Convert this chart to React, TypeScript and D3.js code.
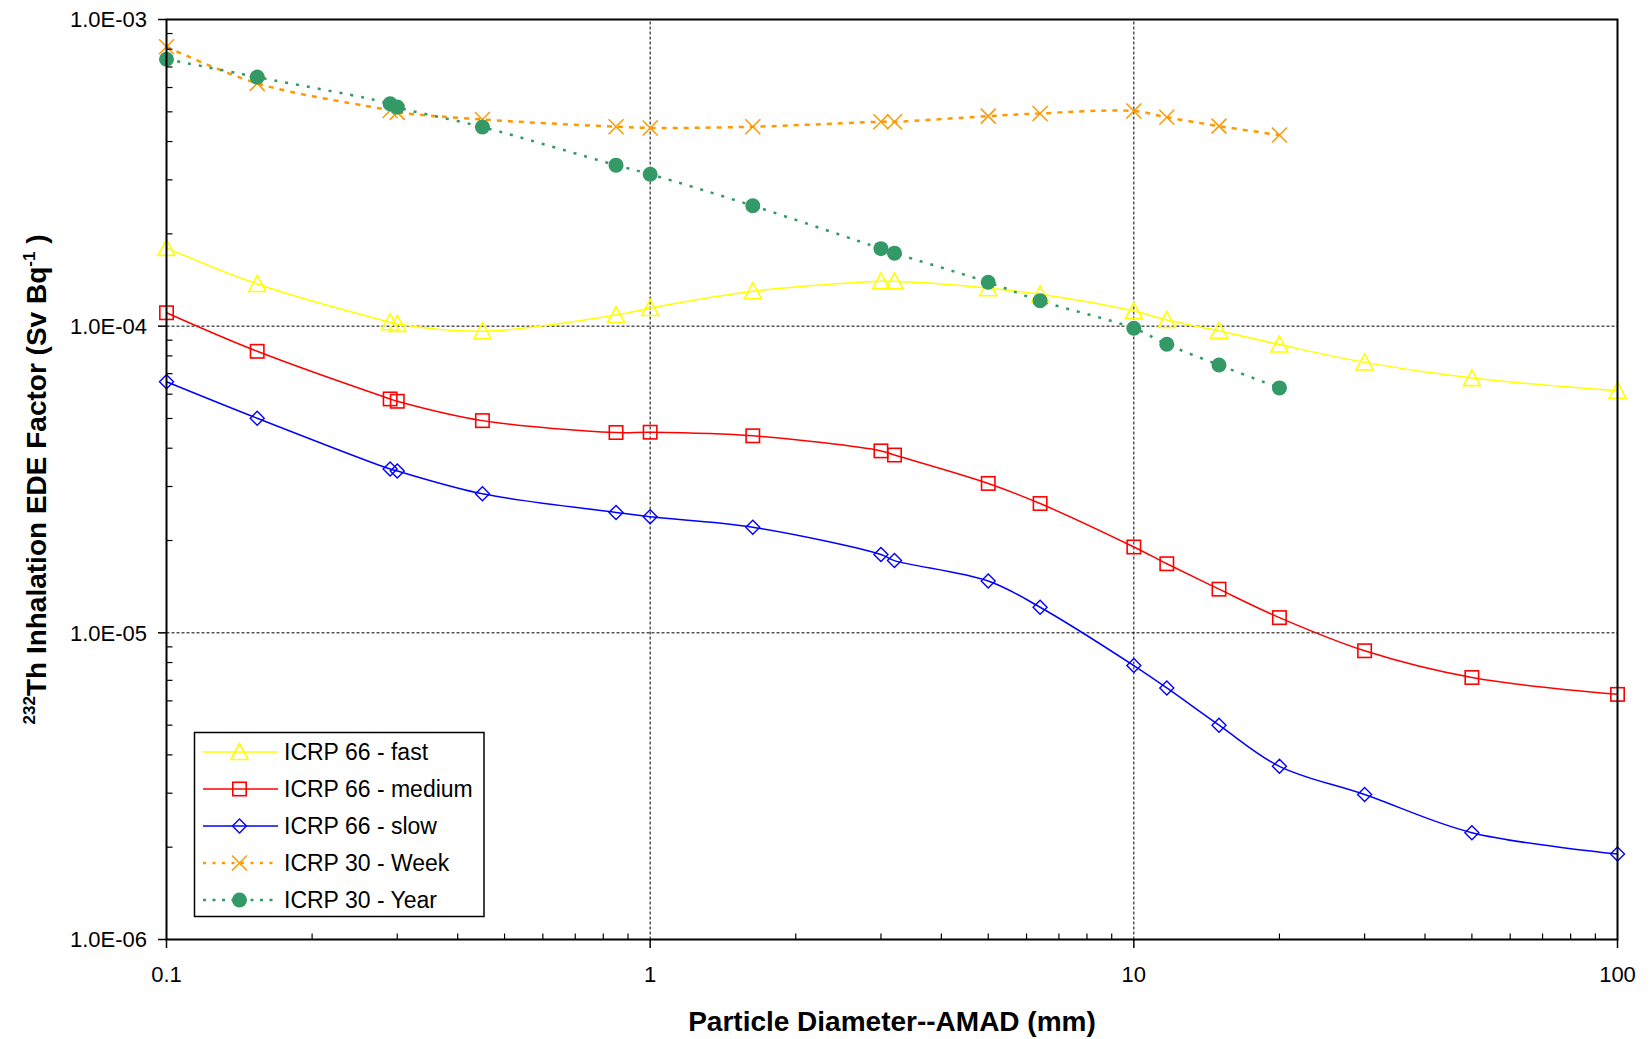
import React from "react";
import * as d3 from "d3";

// ---- data ----
const amad66: number[] = [0.1, 0.154, 0.29, 0.3, 0.45, 0.85, 1.0, 1.63, 3.0, 3.2, 5.0, 6.4, 10, 11.7, 15, 20, 30, 50, 100];
const fast: number[] = [1.8e-4, 1.373e-4, 1.03e-4, 1.017e-4, 9.63e-5, 1.087e-4, 1.146e-4, 1.3e-4, 1.4e-4, 1.4e-4, 1.33e-4, 1.27e-4, 1.12e-4, 1.047e-4, 9.65e-5, 8.71e-5, 7.62e-5, 6.77e-5, 6.16e-5];
const medium: number[] = [1.106e-4, 8.28e-5, 5.79e-5, 5.69e-5, 4.92e-5, 4.5e-5, 4.51e-5, 4.39e-5, 3.92e-5, 3.8e-5, 3.07e-5, 2.64e-5, 1.905e-5, 1.68e-5, 1.388e-5, 1.121e-5, 8.74e-6, 7.15e-6, 6.3e-6];
const slow: number[] = [6.59e-5, 5.01e-5, 3.42e-5, 3.37e-5, 2.84e-5, 2.47e-5, 2.39e-5, 2.21e-5, 1.8e-5, 1.72e-5, 1.476e-5, 1.212e-5, 7.82e-6, 6.61e-6, 5.0e-6, 3.67e-6, 2.97e-6, 2.23e-6, 1.9e-6];
const amad30: number[] = [0.1, 0.154, 0.29, 0.3, 0.45, 0.85, 1.0, 1.63, 3.0, 3.2, 5.0, 6.4, 10, 11.7, 15, 20];
const week: number[] = [8.15e-4, 6.19e-4, 5.05e-4, 4.98e-4, 4.72e-4, 4.47e-4, 4.43e-4, 4.47e-4, 4.64e-4, 4.64e-4, 4.84e-4, 4.94e-4, 5.03e-4, 4.8e-4, 4.49e-4, 4.2e-4];
const year: number[] = [7.42e-4, 6.49e-4, 5.31e-4, 5.18e-4, 4.46e-4, 3.35e-4, 3.13e-4, 2.47e-4, 1.79e-4, 1.73e-4, 1.39e-4, 1.21e-4, 9.84e-5, 8.73e-5, 7.47e-5, 6.29e-5];

const xTickValues: number[] = [0.1, 1, 10, 100];
const xTickLabels: string[] = ["0.1", "1", "10", "100"];
const yTickValues: number[] = [1e-6, 1e-5, 1e-4, 1e-3];
const yTickLabels: string[] = ["1.0E-06", "1.0E-05", "1.0E-04", "1.0E-03"];
const legendLabels: string[] = ["ICRP 66 - fast", "ICRP 66 - medium", "ICRP 66 - slow", "ICRP 30 - Week", "ICRP 30 - Year"];

const FONT = "'Liberation Sans', Arial, Helvetica, sans-serif";

type Marker = "triangle" | "square" | "diamond" | "x" | "circle";
interface Series {
  name: string;
  xs: number[];
  ys: number[];
  color: string;
  marker: Marker;
  dash?: string;
  width: number;
}

const series: Series[] = [
  { name: legendLabels[0], xs: amad66, ys: fast, color: "#FFFF00", marker: "triangle", width: 1.5 },
  { name: legendLabels[1], xs: amad66, ys: medium, color: "#FF0000", marker: "square", width: 1.5 },
  { name: legendLabels[2], xs: amad66, ys: slow, color: "#0000FF", marker: "diamond", width: 1.5 },
  { name: legendLabels[3], xs: amad30, ys: week, color: "#FF9900", marker: "x", dash: "5,6", width: 2.5 },
  { name: legendLabels[4], xs: amad30, ys: year, color: "#339966", marker: "circle", dash: "3,8", width: 2.5 },
];

function MarkerShape({ type, cx, cy, color }: { type: Marker; cx: number; cy: number; color: string }) {
  switch (type) {
    case "triangle":
      return (
        <path
          d={`M${cx},${cy - 8.5}L${cx + 8.5},${cy + 7.5}L${cx - 8.5},${cy + 7.5}Z`}
          fill="none"
          stroke={color}
          strokeWidth={1.6}
        />
      );
    case "square":
      return <rect x={cx - 6.7} y={cy - 6.7} width={13.4} height={13.4} fill="none" stroke={color} strokeWidth={1.6} />;
    case "diamond":
      return (
        <path
          d={`M${cx},${cy - 7}L${cx + 7},${cy}L${cx},${cy + 7}L${cx - 7},${cy}Z`}
          fill="none"
          stroke={color}
          strokeWidth={1.4}
        />
      );
    case "x":
      return (
        <path
          d={`M${cx - 7.5},${cy - 7.5}L${cx + 7.5},${cy + 7.5}M${cx + 7.5},${cy - 7.5}L${cx - 7.5},${cy + 7.5}`}
          fill="none"
          stroke={color}
          strokeWidth={1.5}
        />
      );
    case "circle":
      return <circle cx={cx} cy={cy} r={7.5} fill={color} />;
  }
  return null;
}

export default function App() {
  const W = 1650;
  const H = 1039;
  const x = d3.scaleLog().domain([0.1, 100]).range([166.5, 1617.5]);
  const y = d3.scaleLog().domain([1e-6, 1e-3]).range([939.5, 19.5]);
  const [x0, x1] = x.range();
  const [y0, y1] = [y(1e-3), y(1e-6)];

  const line = d3
    .line<[number, number]>()
    .x((d) => x(d[0]))
    .y((d) => y(d[1]))
    .curve(d3.curveCatmullRom.alpha(0.5));

  const minorX: number[] = [];
  [0.1, 1, 10].forEach((d) => {
    for (let k = 2; k <= 9; k++) minorX.push(d * k);
  });
  const minorY: number[] = [];
  [1e-6, 1e-5, 1e-4].forEach((d) => {
    for (let k = 2; k <= 9; k++) minorY.push(d * k);
  });

  const legX = 194.5;
  const legY = 732.5;
  const legW = 289.5;
  const legH = 184;
  const legStep = 37;

  return (
    <svg
      width={W}
      height={H}
      viewBox={`0 0 ${W} ${H}`}
      style={{ position: "absolute", left: 0, top: 0, background: "#fff" }}
      fontFamily={FONT}
    >
      <rect x={0} y={0} width={W} height={H} fill="#fff" />

      {/* gridlines */}
      {xTickValues
        .filter((v) => v > 0.1 && v < 100)
        .map((v) => (
          <line key={"gx" + v} x1={x(v)} x2={x(v)} y1={y1} y2={y0} stroke="#000" strokeWidth={1} strokeDasharray="3,2" />
        ))}
      {yTickValues
        .filter((v) => v > 1e-6 && v < 1e-3)
        .map((v) => (
          <line key={"gy" + v} x1={x0} x2={x1} y1={y(v)} y2={y(v)} stroke="#000" strokeWidth={1} strokeDasharray="3,2" />
        ))}

      {/* series lines */}
      {series.map((s) => (
        <path
          key={"l" + s.name}
          d={line(s.xs.map((v, i) => [v, s.ys[i]] as [number, number])) || ""}
          fill="none"
          stroke={s.color}
          strokeWidth={s.width}
          strokeDasharray={s.dash}
        />
      ))}
      {/* markers */}
      {series.map((s) => (
        <g key={"m" + s.name}>
          {s.xs.map((v, i) => (
            <MarkerShape key={i} type={s.marker} cx={x(v)} cy={y(s.ys[i])} color={s.color} />
          ))}
        </g>
      ))}

      {/* frame */}
      <rect x={x0} y={y0} width={x1 - x0} height={y1 - y0} fill="none" stroke="#000" strokeWidth={2} />

      {/* y ticks */}
      {yTickValues.map((v, i) => (
        <g key={"yt" + v}>
          <line x1={x0 - 8.5} x2={x0} y1={y(v)} y2={y(v)} stroke="#000" strokeWidth={1.5} />
          <text x={147} y={y(v)} dy="0.36em" textAnchor="end" fontSize={22} fill="#000">
            {yTickLabels[i]}
          </text>
        </g>
      ))}
      {minorY.map((v) => (
        <line key={"ym" + v} x1={x0} x2={x0 + 6} y1={y(v)} y2={y(v)} stroke="#000" strokeWidth={1.2} />
      ))}

      {/* x ticks */}
      {xTickValues.map((v, i) => (
        <g key={"xt" + v}>
          <line x1={x(v)} x2={x(v)} y1={y1} y2={y1 + 8.5} stroke="#000" strokeWidth={1.5} />
          <text x={x(v)} y={981.5} textAnchor="middle" fontSize={22} fill="#000">
            {xTickLabels[i]}
          </text>
        </g>
      ))}
      {minorX.map((v) => (
        <line key={"xm" + v} x1={x(v)} x2={x(v)} y1={y1} y2={y1 - 6} stroke="#000" strokeWidth={1.2} />
      ))}

      {/* axis titles */}
      <text x={(x0 + x1) / 2} y={1030.5} textAnchor="middle" fontSize={28} fontWeight="bold" fill="#000">
        Particle Diameter--AMAD (mm)
      </text>
      <text
        transform={`translate(46,${(y0 + y1) / 2}) rotate(-90)`}
        textAnchor="middle"
        fontSize={28}
        fontWeight="bold"
        fill="#000"
      >
        <tspan fontSize={17} dy={-11}>232</tspan>
        <tspan dy={11}>Th Inhalation EDE Factor (Sv Bq</tspan>
        <tspan fontSize={17} dy={-11}>-1</tspan>
        <tspan dy={11}> )</tspan>
      </text>

      {/* legend */}
      <rect x={legX} y={legY} width={legW} height={legH} fill="#fff" stroke="#000" strokeWidth={1.5} />
      {series.map((s, i) => {
        const cy = legY + 19.5 + i * legStep;
        return (
          <g key={"lg" + s.name}>
            <line x1={203} x2={278} y1={cy} y2={cy} stroke={s.color} strokeWidth={s.dash ? 2.5 : 1.5} strokeDasharray={s.dash ? "3,6.5" : undefined} />
            <MarkerShape type={s.marker} cx={239.5} cy={cy} color={s.color} />
            <text x={284} y={cy} dy="0.36em" fontSize={23} fill="#000">
              {s.name}
            </text>
          </g>
        );
      })}
    </svg>
  );
}
